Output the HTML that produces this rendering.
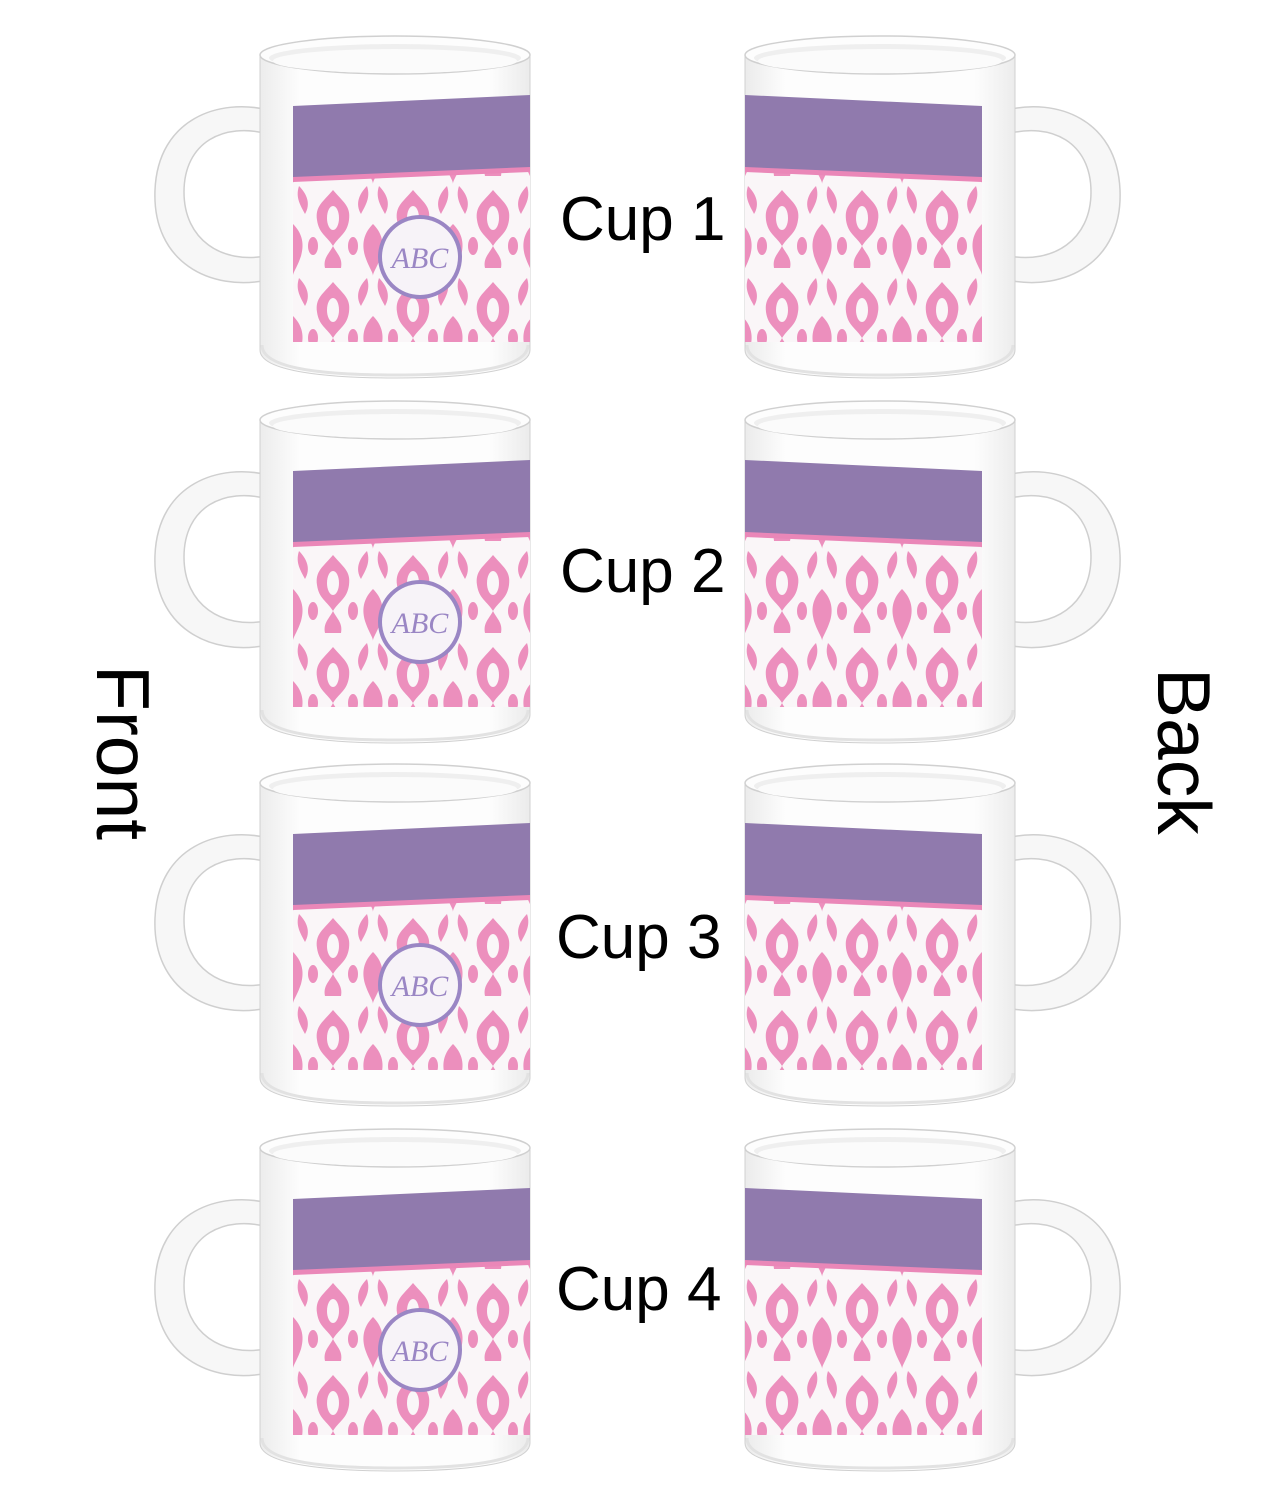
<!DOCTYPE html>
<html><head><meta charset="utf-8"><style>
html,body{margin:0;padding:0;background:#fff;}
svg{display:block;}
</style></head><body>
<svg width="1275" height="1500" viewBox="0 0 1275 1500" xmlns="http://www.w3.org/2000/svg">
<defs>
<linearGradient id="bodyg" x1="0" x2="1" y1="0" y2="0">
<stop offset="0" stop-color="#ececec"/><stop offset="0.15" stop-color="#fdfdfd"/><stop offset="0.85" stop-color="#fdfdfd"/><stop offset="1" stop-color="#ebebeb"/>
</linearGradient>
<pattern id="dam" x="293" y="0" width="80" height="92" patternUnits="userSpaceOnUse">
<rect width="80" height="92" fill="#faf6f8"/>
<g fill="#ec8fbd">
<path d="M40 6 C30 18 22 22 24 36 C26 50 34 52 40 62 C46 52 54 50 56 36 C58 22 50 18 40 6 Z"/>
<path d="M40 62 C36 70 30 74 32 84 L48 84 C50 74 44 70 40 62 Z"/>
<path d="M0 40 C8 48 12 58 8 72 C4 84 0 88 0 92 L0 40 Z"/>
<path d="M80 40 C72 48 68 58 72 72 C76 84 80 88 80 92 L80 40 Z"/>
<path d="M6 2 C14 10 18 20 12 30 C8 22 2 14 6 2 Z"/>
<path d="M74 2 C66 10 62 20 68 30 C72 22 78 14 74 2 Z"/>
<ellipse cx="20" cy="62" rx="5" ry="9"/>
<ellipse cx="60" cy="62" rx="5" ry="9"/>
</g>
<g fill="#faf6f8">
<ellipse cx="40" cy="34" rx="6" ry="12"/>
</g>
</pattern>
<g id="mug">
<path d="M268 110 C220 98 158 118 155 190 C152 262 210 292 268 280 L266 256 C222 264 184 240 184 192 C184 142 224 122 268 134 Z" fill="#f7f7f7" stroke="#cfcfcf" stroke-width="1.5"/>
<path d="M260 56 L260 350 C260 372 330 378 395 378 C460 378 530 372 530 350 L530 56 Z" fill="url(#bodyg)" stroke="#d0d0d0" stroke-width="1"/>
<path d="M262 345 C262 370 330 375 395 375 C460 375 528 370 528 345" fill="none" stroke="#e2e2e2" stroke-width="3"/>
<ellipse cx="395" cy="55" rx="135" ry="19" fill="#fdfdfd" stroke="#d0d0d0" stroke-width="1.5"/>
<ellipse cx="395" cy="58" rx="126" ry="14" fill="#efefef"/>
<ellipse cx="395" cy="61" rx="122" ry="12" fill="#fbfbfb"/>
<path d="M293 178 L530 168 L530 342 L293 342 Z" fill="url(#dam)"/>
<path d="M293 172 L530 162 L530 172 L293 182 Z" fill="#ea87b8"/>
<path d="M293 106 L530 95 L530 167 L293 177 Z" fill="#907aad"/>
</g>
<g id="mono">
<circle cx="420" cy="257" r="42" fill="#9a86c4"/>
<circle cx="420" cy="257" r="38" fill="#f7f3f8"/>
<circle cx="420" cy="257" r="40" fill="none" stroke="#9a86c4" stroke-width="3" stroke-dasharray="4 3"/>
<text x="420" y="268" text-anchor="middle" font-family="Liberation Serif, serif" font-style="italic" font-size="30" fill="#9a86c4">ABC</text>
</g>
</defs>

<use href="#mug"/><use href="#mono"/>
<use href="#mug" transform="translate(0,365)"/><use href="#mono" transform="translate(0,365)"/>
<use href="#mug" transform="translate(0,728)"/><use href="#mono" transform="translate(0,728)"/>
<use href="#mug" transform="translate(0,1093)"/><use href="#mono" transform="translate(0,1093)"/>

<g transform="translate(1275,0) scale(-1,1)">
<use href="#mug"/>
<use href="#mug" transform="translate(0,365)"/>
<use href="#mug" transform="translate(0,728)"/>
<use href="#mug" transform="translate(0,1093)"/>
</g>

<g font-family="Liberation Sans, Arial, sans-serif" font-size="62" fill="#000">
<text x="560" y="240">Cup 1</text>
<text x="560" y="592">Cup 2</text>
<text x="556" y="958">Cup 3</text>
<text x="556" y="1310">Cup 4</text>
</g>
<g font-family="Liberation Sans, Arial, sans-serif" font-size="75" fill="#000">
<text transform="translate(97,665) rotate(90)">Front</text>
<text transform="translate(1158,668) rotate(90)">Back</text>
</g>
</svg>
</body></html>
